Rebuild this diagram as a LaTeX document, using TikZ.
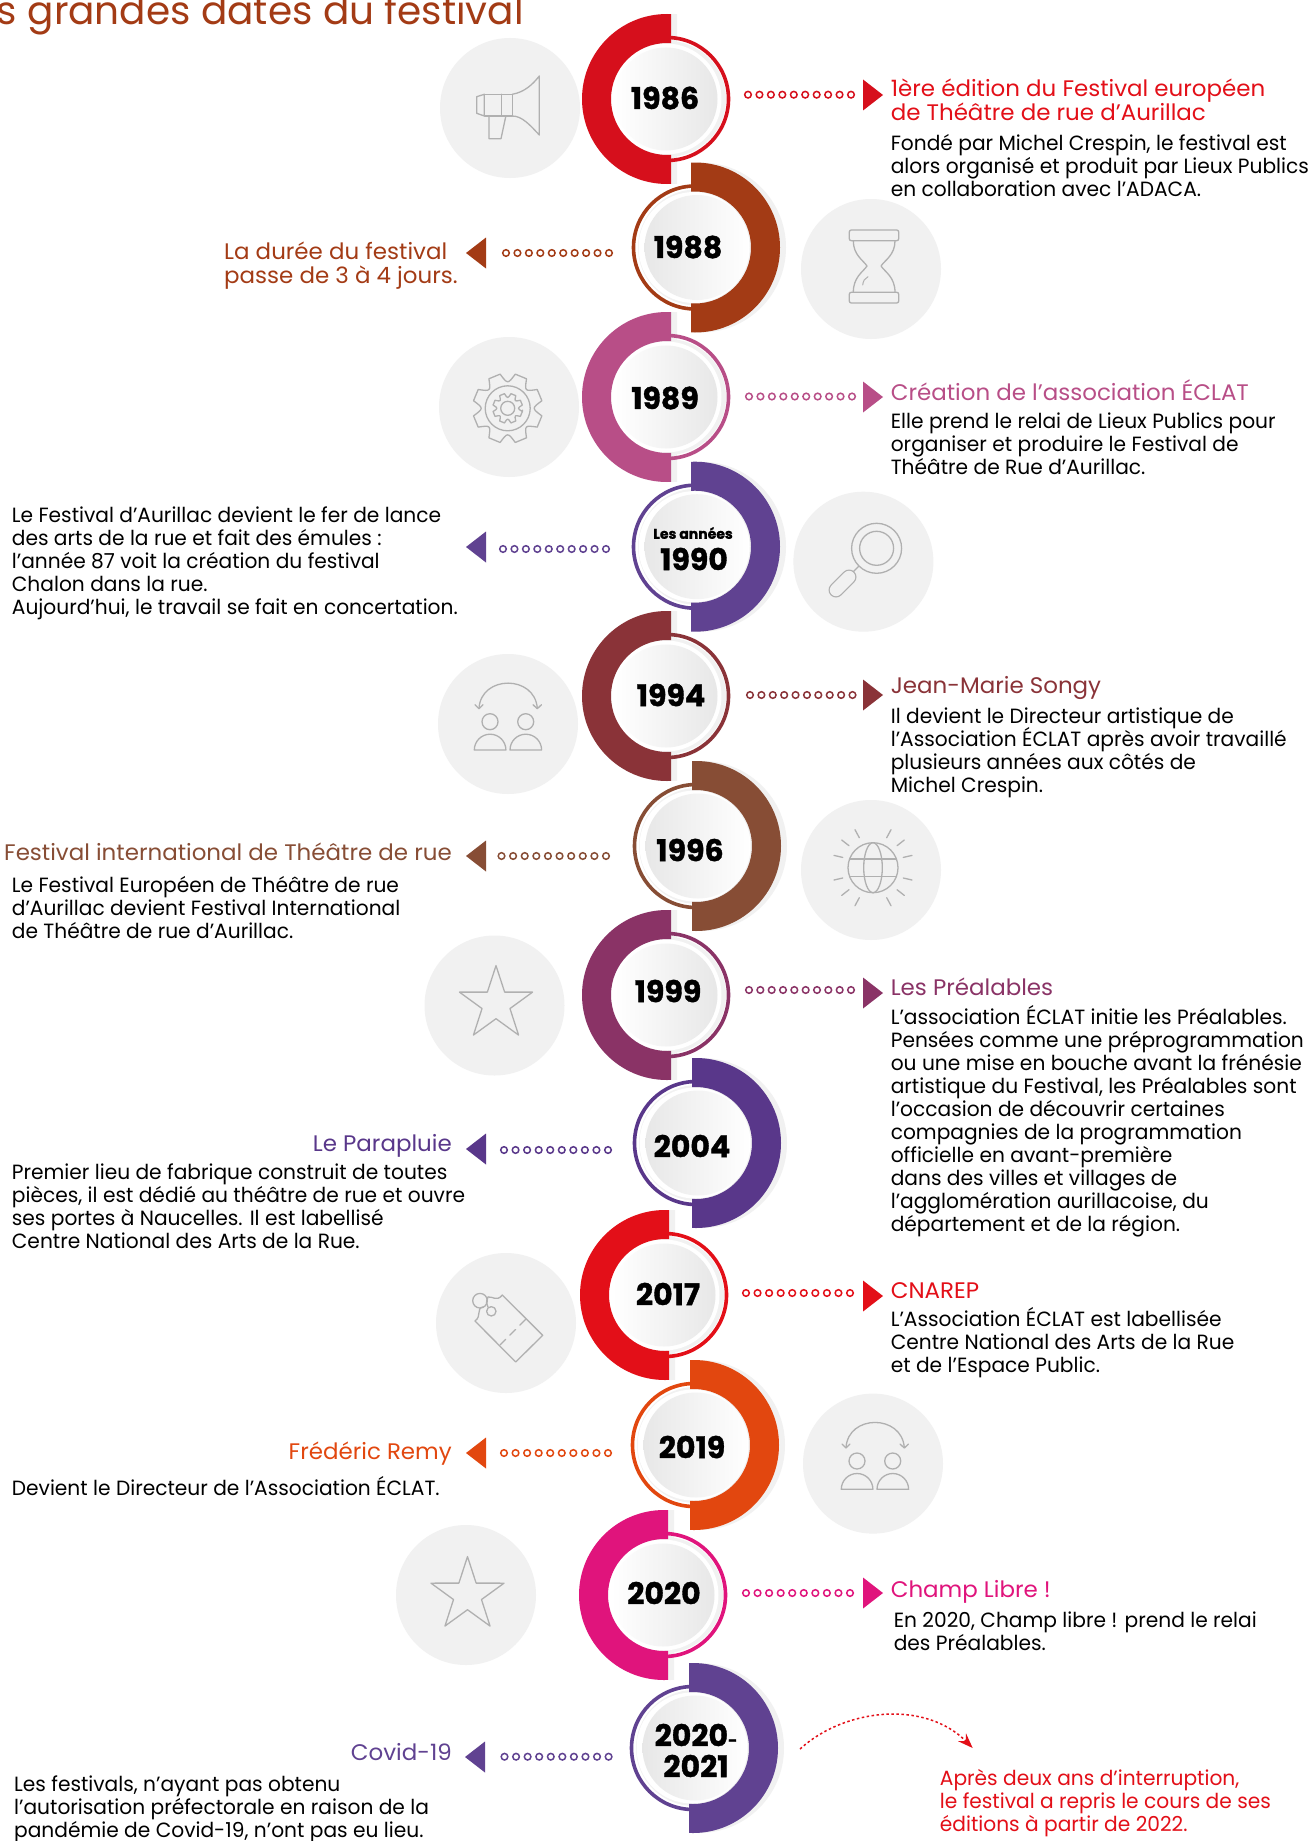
\documentclass[tikz,border=0pt]{standalone}
\usepackage{fontspec}
\usetikzlibrary{calc,arrows.meta}
\setmainfont{Poppins}
\newfontfamily\bodyf[FakeStretch=0.98]{Poppins}
\newfontfamily\headf[FakeStretch=1.02]{Poppins}
\newfontfamily\yearf[FakeBold=1.2]{Poppins Bold}
\newcommand{\tightlines}{\lineskiplimit=-20pt\relax}
\definecolor{cA}{HTML}{D60F1C}
\definecolor{cB}{HTML}{A33B15}
\definecolor{cC}{HTML}{B84E87}
\definecolor{cD}{HTML}{604291}
\definecolor{cE}{HTML}{8A3338}
\definecolor{cF}{HTML}{874D35}
\definecolor{cG}{HTML}{8A3366}
\definecolor{cH}{HTML}{59378A}
\definecolor{cI}{HTML}{E30F18}
\definecolor{cJ}{HTML}{E2470F}
\definecolor{cK}{HTML}{E0147C}
\definecolor{discgray}{HTML}{F1F1F1}
\definecolor{icongray}{HTML}{B0B0B0}
\tikzset{
  bodytext/.style={inner sep=0pt,align=left,text=black,font=\bodyf\fontsize{20.6}{23}\selectfont\tightlines},
  headtext/.style={inner sep=0pt,font=\headf\fontsize{22.5}{24}\selectfont\tightlines},
  yeartext/.style={inner sep=0pt,align=center,text=black,font=\yearf\fontsize{30}{31}\selectfont},
  dotmark/.style={circle,inner sep=0pt,minimum size=6.6pt,line width=1.5pt,fill=white},
  iconline/.style={draw=icongray,line width=1.3pt,line join=round,line cap=round},
  icondisc/.style={fill=discgray},
}
% cx, cy, side (-1 left, 1 right), colour
\newcommand{\yearmark}[4]{%
  \begin{scope}[shift={(#1,#2)}]
    \begin{scope}[shift={(6,0)}]
      \clip (#3*4*-1,-100) rectangle (#3*110,100);
      \fill[discgray,even odd rule] (0,0) circle (85) (0,0) circle (56);
    \end{scope}
    \fill[discgray] (1,0) circle (58);
    \fill[white] (-1,0) circle (55.5);
    \draw[#4,line width=3.6pt] (0,0) circle (61.5);
    \begin{scope}
      \clip (#3*4*-1,-100) rectangle (#3*110,100);
      \fill[#4,even odd rule] (0,0) circle (85) (0,0) circle (56);
    \end{scope}
    \ifnum#3<0
      \shade[left color=white,right color=discgray!96!black] (-1,0) circle (51.5);
    \else
      \shade[left color=discgray!96!black,right color=white] (2,0) circle (52.5);
    \fi
  \end{scope}}
% name, x1, x2, y, colour
\newcommand{\dotrow}[5]{%
  \coordinate (#1a) at (#2,#4);
  \coordinate (#1b) at (#3,#4);
  \foreach \i in {0,...,9}
    \node[dotmark,draw=#5] at ($(#1a)!\i/9!(#1b)$) {};}
% base x, y, dir, colour
\newcommand{\tri}[4]{%
  \fill[#4] (#1,#2-15.5) -- (#1,#2+15.5) -- (#1+#3*20,#2) -- cycle;}
\newcommand{\peopleicon}{%
  \draw[iconline] (-18,1) circle (8);
  \draw[iconline] (17.7,1) circle (8);
  \draw[iconline] (-33.7,29.3) arc[start angle=180,end angle=360,radius=15.8] -- cycle;
  \draw[iconline] (2,29.3) arc[start angle=180,end angle=360,radius=15.8] -- cycle;
  \draw[iconline] (-29,-12.3) .. controls (-27,-46) and (27,-46) .. (29.3,-12.3);
  \draw[iconline] (-33,-16) -- (-29,-12) -- (-25,-16);
  \draw[iconline] (25,-16) -- (29.3,-12) -- (33.5,-16);}
\newcommand{\staricon}{%
  \draw[iconline] (270:38.4) -- (306:14.7) -- (342:38.4) -- (18:14.7) -- (54:38.4) -- (90:14.7) -- (126:38.4) -- (162:14.7) -- (198:38.4) -- (234:14.7) -- cycle;}
\begin{document}
\begin{tikzpicture}[x=1pt,y=-1pt]
\useasboundingbox (0,0) rectangle (1312,1841);
\clip (0,0) rectangle (1312,1841);
\fill[white] (0,0) rectangle (1312,1841);

% title
\node[inner sep=0pt,anchor=base east,text=cB,font=\fontsize{39}{42}\selectfont] (title) at (524,25) {s grandes dates du festival};

% grey discs
\foreach \x/\y in {510/108,871/269,509/407,863.4/561.7,508/724,871/870,494.5/1005.5,506/1323,873/1463.6,466/1595}
  \fill[icondisc] (\x,\y) circle (70);

% megaphone
\draw[iconline] (476.7,96.7) -- (484.3,94.3) -- (484.3,116) -- (476.7,113.3) -- cycle;
\draw[iconline] (484.3,94.3) rectangle (512.3,116);
\draw[iconline] (501.7,94.3) -- (501.7,116);
\draw[iconline] (512.3,94.3) .. controls (525,92) and (533,84) .. (539.3,76) -- (539.3,135) .. controls (530,125) and (522,116) .. (512.3,116);
\draw[iconline] (489,116.7) -- (489,138.7) -- (501,138.7) -- (505.7,116.7);

% hourglass
\draw[iconline,rounded corners=2pt] (849.3,230) rectangle (898.7,240.7);
\draw[iconline,rounded corners=2pt] (849.3,292.3) rectangle (898.7,303);
\draw[iconline] (853.3,240.7) .. controls (853.3,255) and (863,260) .. (867,266) .. controls (863,272) and (853.3,277) .. (853.3,292.3);
\draw[iconline] (895,240.7) .. controls (895,255) and (885,260) .. (881,266) .. controls (885,272) and (895,277) .. (895,292.3);
\draw[iconline,line width=1pt] (862.7,285) .. controls (863,281) and (865,278) .. (868,276.7);

% gear
\begin{scope}[shift={(507.7,408.3)}]
  \draw[iconline] (12.5:35) \foreach \a in {22.5,67.5,...,337.5} { -- (\a-10:35) -- (\a+10:35) .. controls (\a+22.5:24) .. (\a+35:35)} -- cycle;
  \draw[iconline] (0,0) circle (22.5);
  \draw[iconline] (7:15) \foreach \a in {22.5,67.5,...,337.5} { -- (\a-10:15) -- (\a+10:15) .. controls (\a+22.5:9.5) .. (\a+35:15)} -- cycle;
  \draw[iconline] (0,0) circle (7);
\end{scope}

% magnifier
\draw[iconline] (876.6,548.3) circle (25);
\draw[iconline] (876.6,548.3) circle (17);
\draw[iconline] (859,566) -- (853,572);
\draw[icongray,line width=15pt,line cap=round] (849,577) -- (836,590);
\draw[discgray,line width=12.4pt,line cap=round] (849,577) -- (836,590);

% people
\begin{scope}[shift={(508,720.7)}]\peopleicon\end{scope}
\begin{scope}[shift={(875,1460)}]\peopleicon\end{scope}

% globe
\begin{scope}[shift={(873,867.7)}]
  \draw[iconline] (0,0) circle (25);
  \draw[iconline] (0,0) ellipse (9.3 and 25);
  \draw[iconline] (-23.4,-8.8) -- (23.4,-8.8);
  \draw[iconline] (-23.4,8.8) -- (23.4,8.8);
  \draw[iconline] (-18,-38) -- (-13.7,-30);
  \draw[iconline] (18,-38) -- (13.7,-30);
  \draw[iconline] (-31.3,-27.7) -- (-24,-22);
  \draw[iconline] (31.3,-27.7) -- (24,-22);
  \draw[iconline] (-39,-12.3) -- (-30.3,-10.3);
  \draw[iconline] (39,-12.3) -- (30.3,-10.3);
  \draw[iconline] (-18,38) -- (-13.7,30);
  \draw[iconline] (18,38) -- (13.7,30);
  \draw[iconline] (-31.3,27.7) -- (-24,22);
  \draw[iconline] (31.3,27.7) -- (24,22);
  \draw[iconline] (-39,12.3) -- (-30.3,10.3);
  \draw[iconline] (39,12.3) -- (30.3,10.3);
\end{scope}

% stars
\begin{scope}[shift={(496,1004)}]\staricon\end{scope}
\begin{scope}[shift={(467.5,1595)}]\staricon\end{scope}

% tag
\draw[iconline] (502.3,1295) -- (542.7,1335.3) -- (515.7,1362) -- (475,1321) .. controls (482,1316) and (476,1308) .. (483,1307);
\draw[iconline] (502.3,1295) .. controls (497,1302) and (492,1296) .. (488,1297);
\draw[iconline] (480,1300.7) circle (7.3);
\draw[iconline] (491.3,1311.3) circle (4.7);
\draw[iconline,dashed,dash pattern=on 8pt off 6pt] (500,1345) -- (525.7,1319.3);
\draw[iconline] (488,1297) .. controls (486,1302) and (486,1304) .. (488,1307);

% year marks
\yearmark{667}{99}{-1}{cA}
\yearmark{695}{247.5}{1}{cB}
\yearmark{667}{397}{-1}{cC}
\yearmark{695}{546.7}{1}{cD}
\yearmark{667}{696}{-1}{cE}
\yearmark{696}{846}{1}{cF}
\yearmark{667}{995}{-1}{cG}
\yearmark{696}{1143}{1}{cH}
\yearmark{665}{1295}{-1}{cI}
\yearmark{694}{1445}{1}{cJ}
\yearmark{664}{1595}{-1}{cK}
\yearmark{693}{1748}{1}{cD}

% year labels
\node[yeartext] (y86) at (665,98) {1986};
\node[yeartext] (y88) at (688,247) {1988};
\node[yeartext] (y89) at (665,398) {1989};
\node[yeartext,font=\yearf\fontsize{14}{16}\selectfont] (y90a) at (693,533) {Les années};
\node[yeartext] (y90) at (694,559) {1990};
\node[yeartext] (y94) at (671,695) {1994};
\node[yeartext] (y96) at (690,850) {1996};
\node[yeartext] (y99) at (668,991) {1999};
\node[yeartext] (y04) at (692,1146) {2004};
\node[yeartext] (y17) at (668,1294) {2017};
\node[yeartext] (y19) at (692,1447) {2019};
\node[yeartext] (y20) at (664,1593) {2020};
\node[yeartext] (y21a) at (696,1735) {2020\fontsize{16}{16}\selectfont-};
\node[yeartext] (y21b) at (696,1766) {2021};

% dotted rows and triangles
\dotrow{dA}{748}{851}{94.7}{cA}   \tri{863}{95}{1}{cA}
\dotrow{dB}{506}{609}{253}{cB}    \tri{486}{253}{-1}{cB}
\dotrow{dC}{749}{852}{396.5}{cC}  \tri{863}{397}{1}{cC}
\dotrow{dD}{503}{606}{549}{cD}    \tri{486}{547}{-1}{cD}
\dotrow{dE}{750}{852.5}{695}{cE}  \tri{863}{695}{1}{cE}
\dotrow{dF}{501.5}{606}{856}{cF}  \tri{486}{856}{-1}{cF}
\dotrow{dG}{749}{851}{990}{cG}    \tri{863}{993}{1}{cG}
\dotrow{dH}{504}{608}{1150}{cH}   \tri{486}{1149}{-1}{cH}
\dotrow{dI}{746}{850}{1293}{cI}   \tri{863}{1296}{1}{cI}
\dotrow{dJ}{504}{608}{1453}{cJ}   \tri{486}{1453}{-1}{cJ}
\dotrow{dK}{746}{850}{1593}{cK}   \tri{863}{1593}{1}{cK}
\dotrow{dL}{504.5}{608.6}{1756.7}{cD} \tri{485}{1757}{-1}{cD}

% right column
\node[headtext,anchor=north west,align=left,text=cI] (hA) at (890.6,79) {1ère édition du Festival européen\\de Théâtre de rue d’Aurillac};
\node[bodytext,anchor=north west] (tA) at (890.6,134.5) {Fondé par Michel Crespin, le festival est\\alors organisé et produit par Lieux Publics\\en collaboration avec l’ADACA.};
\node[headtext,anchor=base west,text=cC] (hC) at (890.6,400) {Création de l’association ÉCLAT};
\node[bodytext,anchor=north west] (tC) at (890.6,413) {Elle prend le relai de Lieux Publics pour\\organiser et produire le Festival de\\Théâtre de Rue d’Aurillac.};
\node[headtext,anchor=base west,text=cE] (hE) at (890.6,693) {Jean-Marie Songy};
\node[bodytext,anchor=north west] (tE) at (890.6,708) {Il devient le Directeur artistique de\\l’Association ÉCLAT après avoir travaillé\\plusieurs années aux côtés de\\Michel Crespin.};
\node[headtext,anchor=base west,text=cG] (hG) at (890.6,995) {Les Préalables};
\node[bodytext,anchor=north west] (tG) at (890.6,1005.5) {L’association ÉCLAT initie les Préalables.\\Pensées comme une préprogrammation\\ou une mise en bouche avant la frénésie\\artistique du Festival, les Préalables sont\\l’occasion de découvrir certaines\\compagnies de la programmation\\officielle en avant-première\\dans des villes et villages de\\l’agglomération aurillacoise, du\\département et de la région.};
\node[headtext,anchor=base west,text=cI] (hI) at (890.6,1298) {CNAREP};
\node[bodytext,anchor=north west] (tI) at (890.6,1307.5) {L’Association ÉCLAT est labellisée\\Centre National des Arts de la Rue\\et de l’Espace Public.};
\node[headtext,anchor=base west,text=cK] (hK) at (890.6,1597) {Champ Libre !};
\node[bodytext,anchor=north west] (tK) at (893.6,1612) {En 2020, Champ libre ! prend le relai\\des Préalables.};
\node[bodytext,anchor=north west,text=cI] (tL) at (939.7,1769) {Après deux ans d’interruption,\\le festival a repris le cours de ses\\éditions à partir de 2022.};

% left column
\node[headtext,anchor=north west,align=left,text=cB] (hB) at (224,242) {La durée du festival\\passe de 3 à 4 jours.};
\node[bodytext,anchor=north west] (tD) at (11.7,507) {Le Festival d’Aurillac devient le fer de lance\\des arts de la rue et fait des émules :\\l’année 87 voit la création du festival\\Chalon dans la rue.\\Aujourd’hui, le travail se fait en concertation.};
\node[headtext,anchor=base east,text=cF] (hF) at (452,860) {Festival international de Théâtre de rue};
\node[bodytext,anchor=north west] (tF) at (11.7,876) {Le Festival Européen de Théâtre de rue\\d’Aurillac devient Festival International\\de Théâtre de rue d’Aurillac.};
\node[headtext,anchor=base east,text=cH] (hH) at (452,1151) {Le Parapluie};
\node[bodytext,anchor=north west] (tH) at (11.7,1164) {Premier lieu de fabrique construit de toutes\\pièces, il est dédié au théâtre de rue et ouvre\\ses portes à Naucelles. Il est labellisé\\Centre National des Arts de la Rue.};
\node[headtext,anchor=base east,text=cJ] (hJ) at (452,1459) {Frédéric Remy};
\node[bodytext,anchor=north west] (tJ) at (11.7,1476.5) {Devient le Directeur de l’Association ÉCLAT.};
\node[headtext,anchor=base east,text=cD] (hL) at (452,1760.5) {Covid-19};
\node[bodytext,anchor=north west] (tM) at (14,1775.5) {Les festivals, n’ayant pas obtenu\\l’autorisation préfectorale en raison de la\\pandémie de Covid-19, n’ont pas eu lieu.};

% curved dotted arrow
\coordinate (arrA) at (800,1749);
\coordinate (arrB) at (972.7,1748);
\draw[cI,line width=1.5pt,dash pattern=on 2.5pt off 2.5pt,-{Stealth[length=15pt,width=11pt,inset=5pt]}] (arrA) .. controls (845,1708) and (925,1700) .. (arrB);
\end{tikzpicture}
\end{document}
